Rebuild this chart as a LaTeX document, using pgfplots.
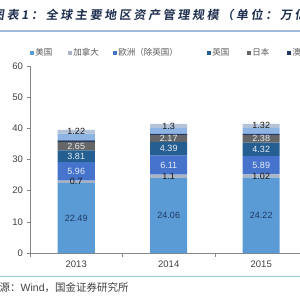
\documentclass[border=0pt]{standalone}
\usepackage{fontspec}
\setmainfont{Liberation Sans}
\newfontfamily\cjk{Noto Sans CJK SC}
\newfontfamily\cjktitle[FakeSlant=0.15,LetterSpace=22]{Noto Sans CJK SC Bold}
\usepackage{pgfplots}
\usepackage{pgfplotstable}
\pgfplotsset{compat=1.18}
\definecolor{cus}{HTML}{5B9BD5}
\definecolor{cca}{HTML}{AAB4C2}
\definecolor{ceu}{HTML}{4674CC}
\definecolor{cuk}{HTML}{255E91}
\definecolor{cjp}{HTML}{666666}
\definecolor{cau}{HTML}{1F3864}
\definecolor{cot}{HTML}{8EB4E3}
\definecolor{cot2}{HTML}{B4C3D8}
\definecolor{axgray}{HTML}{868686}
\definecolor{lblgray}{HTML}{404040}
\definecolor{leggray}{HTML}{595959}
\definecolor{ttl}{HTML}{1F2F4F}
\definecolor{linebl}{HTML}{9FBBD9}
\definecolor{srcline}{HTML}{9CCBD8}
\definecolor{darklab}{HTML}{1A1A1A}
\definecolor{navylab}{HTML}{1F3864}
\definecolor{lightlab}{HTML}{E4ECF6}
\pgfplotstableread{
x us ca eu uk jp au ot ot2
0 22.49 0.70 5.96 3.81 2.65 0.50 2.20 1.22
1 24.06 1.10 6.11 4.39 2.17 0.40 1.90 1.30
2 24.22 1.02 5.89 4.32 2.38 0.40 1.90 1.32
}\data
\pgfplotsset{
  midlabel/.style={
    nodes near coords,
    point meta=explicit,
    every node near coord/.append style={anchor=center, text=#1, font=\fontsize{9}{10}\selectfont, inner sep=0pt},
  },
  sqleg/.style={legend image code/.code={\fill[##1, draw=none] (0pt,-1.8pt) rectangle (3.6pt,1.8pt);}},
}
\begin{document}
\begin{tikzpicture}[x=1pt,y=1pt]
\useasboundingbox (0,0) rectangle (300,300);
\fill[white] (0,0) rectangle (300,300);
\begin{axis}[
  at={(30pt,47pt)}, anchor=south west,
  scale only axis, width=277.5pt, height=187pt,
  ybar stacked, bar width=37pt,
  xmin=-0.5, xmax=2.5, ymin=0, ymax=60,
  axis lines*=left,
  axis line style={draw=axgray, line width=0.6pt, -},
  ytick={0,10,...,60},
  xtick={-0.5,0.5,1.5,2.5},
  xticklabels={2013,2014,2015},
  x tick label style={xshift=46.25pt, yshift=-1pt},
  tick align=outside, major tick length=3.5pt,
  tick style={draw=axgray, line width=0.6pt},
  /pgf/number format/assume math mode=true,
  ticklabel style={font=\fontsize{9.5}{10}\selectfont, text=lblgray},
  legend columns=-1,
  legend style={draw=none, fill=none, inner sep=0pt, outer sep=0pt,
    at={(0,1.0695)}, anchor=west,
    font=\cjk\fontsize{8.5}{9}\selectfont, text=leggray,
    nodes={inner sep=0pt},
    /tikz/every even column/.style={column sep=0pt}},
  legend cell align=left,
]
\addplot[fill=cus, draw=none, sqleg, midlabel=navylab] table[x=x, y=us, meta=us] {\data};
\addplot[fill=cca, draw=none, sqleg, midlabel=darklab] table[x=x, y=ca, meta=ca] {\data};
\addplot[fill=ceu, draw=none, sqleg, midlabel=lightlab] table[x=x, y=eu, meta=eu] {\data};
\addplot[fill=cuk, draw=none, sqleg, midlabel=lightlab] table[x=x, y=uk, meta=uk] {\data};
\addplot[fill=cjp, draw=none, sqleg, midlabel=lightlab] table[x=x, y=jp, meta=jp] {\data};
\addplot[fill=cau, draw=none, sqleg] table[x=x, y=au] {\data};
\addplot[fill=cot, draw=none, sqleg] table[x=x, y=ot] {\data};
\addplot[fill=cot2, draw=none, sqleg, midlabel=darklab] table[x=x, y=ot2, meta=ot2] {\data};
\legend{\makebox[34.4pt][l]{\hspace{1.8pt}美国},\makebox[41.4pt][l]{\hspace{1.8pt}加拿大},\makebox[90.4pt][l]{\hspace{1.8pt}欧洲（除英国）},\makebox[36.4pt][l]{\hspace{1.8pt}英国},\makebox[36.4pt][l]{\hspace{1.8pt}日本},\makebox[60pt][l]{\hspace{1.8pt}澳大利亚}}
\end{axis}
\node[anchor=west, inner sep=0pt, text=ttl] at (-8,285) {\cjktitle\fontsize{12}{12}\selectfont 图表1：全球主要地区资产管理规模（单位：万亿美元）};
\draw[line width=1.2pt, color=linebl] (0,269) -- (300,269);
\draw[line width=1pt, color=srcline] (0,23) -- (300,23);
\node[anchor=west, inner sep=0pt, text=lblgray] at (-11,12) {\fontsize{10.5}{11}\selectfont{\cjk 来源：}Wind{\cjk ，国金证券研究所}};
\end{tikzpicture}
\end{document}
